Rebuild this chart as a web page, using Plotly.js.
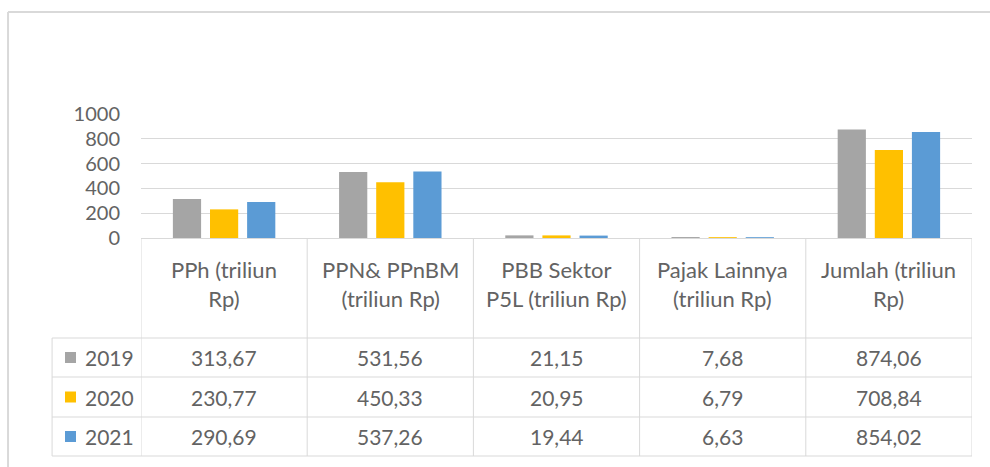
<!DOCTYPE html>
<html>
<head>
<meta charset="utf-8">
<script src="https://cdn.plot.ly/plotly-3.0.1.min.js"></script>
<style>html,body{margin:0;padding:0;background:#fff;}</style>
</head>
<body>
<div id="chart" style="width:990px;height:467px;"></div>
<script>
// ---- data ----
const categories = [
  "PPh (triliun<br>Rp)",
  "PPN& PPnBM<br>(triliun Rp)",
  "PBB Sektor<br>P5L (triliun Rp)",
  "Pajak Lainnya<br>(triliun Rp)",
  "Jumlah (triliun<br>Rp)"
];
const years = ["2019", "2020", "2021"];
const values2019 = [313.67, 531.56, 21.15, 7.68, 874.06];
const values2020 = [230.77, 450.33, 20.95, 6.79, 708.84];
const values2021 = [290.69, 537.26, 19.44, 6.63, 854.02];
const yTicks = [0, 200, 400, 600, 800, 1000];
const colors = ["#A5A5A5", "#FFC000", "#5B9BD5"];

const series = [values2019, values2020, values2021];
const idx = categories.map((_, i) => i);

const textColor = "#636363";
const lineColor = "#D9D9D9";
const fontFam = "Lato, 'Open Sans', sans-serif";

const traces = series.map((vals, s) => ({
  type: "bar",
  x: idx,
  y: vals,
  name: years[s],
  marker: { color: colors[s] },
  hoverinfo: "none"
}));

// table geometry (paper coords; paper spans px 114..456 vertically)
const P = px => (456 - px) / 342;
const rowTop = [338, 377, 417];
const rowBot = [377, 417, 456];
const shapes = [];
const annotations = [];

// outer chart frame (top and left edges)
shapes.push({ type: "line", xref: "paper", yref: "paper", x0: -0.16, x1: 1.03, y0: P(12), y1: P(12), line: { color: lineColor, width: 2 } });
shapes.push({ type: "line", xref: "paper", yref: "paper", x0: -0.16, x1: -0.16, y0: P(12), y1: P(470), line: { color: lineColor, width: 2 } });

// vertical category boundaries
for (let i = 0; i <= categories.length; i++) {
  shapes.push({ type: "line", xref: "x", yref: "paper", x0: i - 0.5, x1: i - 0.5, y0: P(238), y1: P(456), line: { color: lineColor, width: 1 } });
}
// legend column left border
shapes.push({ type: "line", xref: "paper", yref: "paper", x0: -0.107, x1: -0.107, y0: P(338), y1: P(456), line: { color: lineColor, width: 1 } });
// horizontal row lines
[338, 377, 417, 456].forEach(y => {
  shapes.push({ type: "line", xref: "paper", yref: "paper", x0: -0.107, x1: 1, y0: P(y), y1: P(y), line: { color: lineColor, width: 1 } });
});

// header labels
categories.forEach((c, i) => {
  annotations.push({ xref: "x", yref: "paper", x: i, y: P(284), text: c, showarrow: false,
    xanchor: "center", yanchor: "middle", align: "center",
    font: { family: fontFam, size: 22, color: textColor } });
});

// rows
series.forEach((vals, s) => {
  const yc = P((rowTop[s] + rowBot[s]) / 2);
  // legend key
  shapes.push({ type: "rect", xref: "paper", yref: "paper",
    x0: (65 - 141) / 831, x1: (76 - 141) / 831, y0: yc - 5.5 / 342, y1: yc + 5.5 / 342,
    fillcolor: colors[s], line: { width: 0 } });
  annotations.push({ xref: "paper", yref: "paper", x: (83 - 141) / 831, y: yc, text: years[s], showarrow: false,
    xanchor: "left", yanchor: "middle", font: { family: fontFam, size: 21, color: textColor } });
  vals.forEach((v, i) => {
    annotations.push({ xref: "x", yref: "paper", x: i, y: yc, text: v.toFixed(2).replace(".", ","), showarrow: false,
      xanchor: "center", yanchor: "middle", font: { family: fontFam, size: 21, color: textColor } });
  });
});

const layout = {
  width: 990, height: 467,
  margin: { l: 141, r: 18, t: 114, b: 11 },
  paper_bgcolor: "#fff", plot_bgcolor: "#fff",
  showlegend: false,
  barmode: "group",
  bargap: 0.33,
  bargroupgap: 0.24,
  xaxis: { range: [-0.5, categories.length - 0.5], showticklabels: false, showgrid: false, zeroline: false, showline: false, fixedrange: true },
  yaxis: {
    domain: [P(238), 1],
    range: [0, 1000],
    tickvals: yTicks,
    ticktext: yTicks.map(String),
    showgrid: true, gridcolor: lineColor, gridwidth: 1,
    zeroline: true, zerolinecolor: lineColor, zerolinewidth: 1,
    showline: false, ticks: "",
    ticklabelstandoff: 20,
    tickfont: { family: fontFam, size: 20, color: textColor },
    fixedrange: true
  },
  shapes: shapes,
  annotations: annotations,
  font: { family: fontFam, color: textColor }
};

Plotly.newPlot("chart", traces, layout, { displayModeBar: false, staticPlot: true });
</script>
</body>
</html>
